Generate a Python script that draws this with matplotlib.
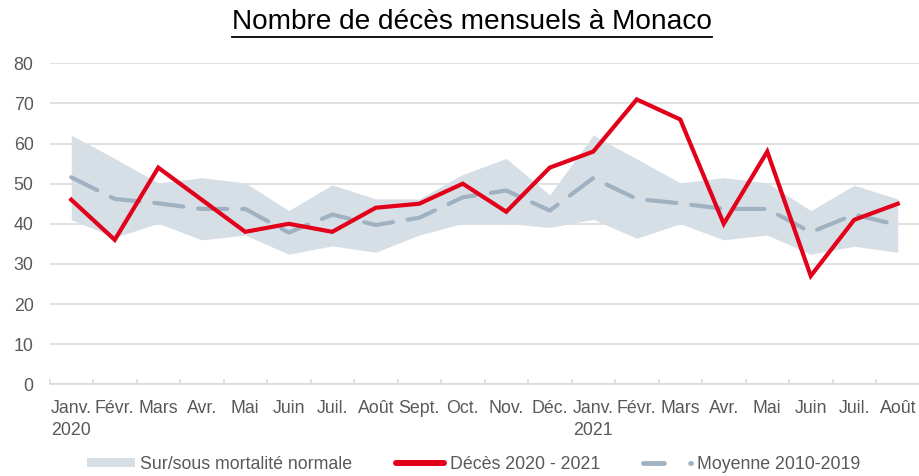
import matplotlib
matplotlib.use("Agg")
import matplotlib.pyplot as plt
from matplotlib.lines import Line2D
from matplotlib.patches import Patch
import numpy as np

plt.rcParams['font.family'] = ['Liberation Sans', 'DejaVu Sans']

months = ["Janv.\n2020", "Févr.", "Mars", "Avr.", "Mai", "Juin", "Juil.", "Août",
          "Sept.", "Oct.", "Nov.", "Déc.", "Janv.\n2021", "Févr.", "Mars", "Avr.",
          "Mai", "Juin", "Juil.", "Août"]

deces = [46, 36, 54, 46, 38, 40, 38, 44, 45, 50, 43, 54,
         58, 71, 66, 40, 58, 27, 41, 45]

moyenne = [51.6, 46.2, 45.1, 43.7, 43.7, 37.8, 42.3, 39.7, 41.5, 46.6, 48.3, 43.3,
           51.4, 46.2, 45.1, 43.7, 43.7, 37.9, 42.3, 39.7]

bande_haut = [62.1, 56.3, 50.2, 51.5, 50.2, 43.3, 49.7, 46.2, 46.2, 52.3, 56.3, 47.2,
              62.1, 56.2, 50.2, 51.5, 50.2, 43.3, 49.6, 46.2]
bande_bas = [41.0, 36.6, 40.1, 36.0, 37.2, 32.4, 34.5, 32.9, 37.2, 40.1, 40.1, 39.1,
             41.1, 36.4, 40.0, 36.0, 37.2, 32.4, 34.4, 32.9]

labels_legende = ["Sur/sous mortalité normale", "Décès 2020 - 2021", "Moyenne 2010-2019"]
titre = "Nombre de décès mensuels à Monaco"

RED = "#E2001A"
DASH = "#A0B2C2"
BAND = "#D7DFE6"
GRID = "#D9D9D9"
TXT = "#595959"
FS = 12.8

W, H = 919, 476
fig = plt.figure(figsize=(W / 100, H / 100), dpi=100)
ax = fig.add_axes([49.5 / W, 91.7 / H, 870 / W, 321 / H])

x = np.arange(len(months))
ax.fill_between(x, bande_bas, bande_haut, color=BAND, lw=0, zorder=1)
ax.plot(x, moyenne, color=DASH, lw=3, dashes=(7, 3.6), solid_capstyle='round',
        dash_capstyle='round', zorder=2)
ax.plot(x, deces, color=RED, lw=3, solid_joinstyle='miter', zorder=3)

ax.set_xlim(-0.5, len(months) - 0.5)
ax.set_ylim(0, 80)
ax.set_yticks(np.arange(0, 81, 10))
ax.yaxis.grid(True, color=GRID, lw=1.1)
ax.set_axisbelow(True)
for s in ['left', 'right', 'top']:
    ax.spines[s].set_visible(False)
ax.spines['bottom'].set_color(GRID)
ax.spines['bottom'].set_linewidth(1.1)

ax.set_xticks(np.arange(-0.5, len(months), 1.0))
ax.set_xticklabels([])
ax.tick_params(axis='x', which='major', direction='in', length=3.6, width=1.1, color=GRID)
ax.set_xticks(x, minor=True)
ax.set_xticklabels(months, minor=True, linespacing=1.38)
ax.tick_params(axis='x', which='minor', length=0, pad=11, labelsize=FS, labelcolor=TXT)
ax.tick_params(axis='y', length=0, pad=11.5, labelsize=FS, labelcolor=TXT)

handles = [Patch(facecolor=BAND, edgecolor='none'),
           Line2D([], [], color=RED, lw=4.3, solid_capstyle='round'),
           Line2D([], [], color=DASH, lw=3.5, dashes=(4.3, 5.4), dash_capstyle='round')]
leg = fig.legend(handles, labels_legende, loc='center', bbox_to_anchor=(473.5 / W, 1 - 464.5 / H),
                 ncol=3, frameon=False, fontsize=FS, handlelength=2.69, handleheight=0.45,
                 handletextpad=0.32, columnspacing=2.45, labelcolor=TXT,
                 borderpad=0.2)

t = fig.text(472 / W, 1 - 22 / H, titre, ha='center', va='center', fontsize=20.2, color='black')
fig.canvas.draw()
bb = t.get_window_extent(fig.canvas.get_renderer())
yline = (bb.y0 - 2) / H
fig.add_artist(Line2D([bb.x0 / W, bb.x1 / W], [yline, yline], color='black', lw=1.3,
                      transform=fig.transFigure))

fig.savefig("out.png", dpi=100)
